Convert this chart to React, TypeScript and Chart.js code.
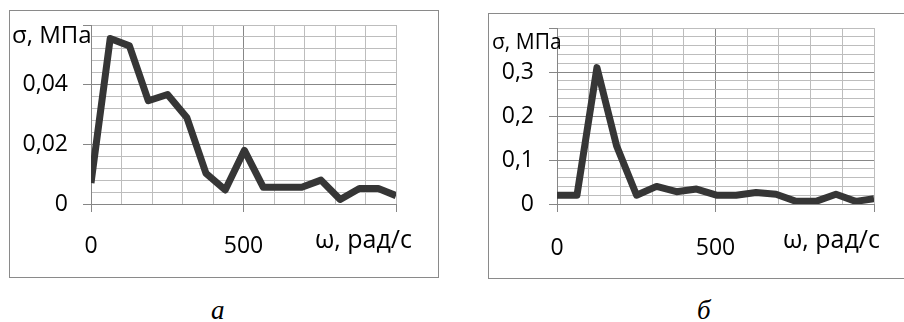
import React, { useEffect, useRef } from 'react';
import { Chart, registerables } from 'chart.js';

Chart.register(...registerables);

// ---- data ----
const omega = [0, 63, 126, 188, 251, 314, 377, 440, 503, 565, 628, 691, 754, 817, 880, 942, 1000];
const sigmaA = [0.007, 0.0555, 0.053, 0.0346, 0.0367, 0.029, 0.0103, 0.0047, 0.018, 0.0056, 0.0056, 0.0056, 0.008, 0.0015, 0.0052, 0.0052, 0.0028];
const sigmaB = [0.02, 0.02, 0.31, 0.132, 0.02, 0.04, 0.028, 0.034, 0.02, 0.02, 0.026, 0.022, 0.006, 0.006, 0.022, 0.006, 0.012];
const xTickLabels = ['0', '500'];
const yTickLabelsA = ['0', '0,02', '0,04'];
const yTickLabelsB = ['0', '0,1', '0,2', '0,3'];
const yTitle = 'σ, МПа';
const xTitle = 'ω, рад/с';
const captions = ['а', 'б'];

// ---- styles ----
const FONT = "'Open Sans', sans-serif";
const TICK_SIZE = 23;
const LINE = '#363636';
const MAJOR = '#878787';
const MINOR = '#bdbdbd';
const AXIS = '#868686';
const BOX = '#8a8a8a';

const titlesPlugin = {
  id: 'axisTitles',
  afterDraw(chart: any, _args: any, opts: any) {
    const { ctx, chartArea } = chart;
    ctx.save();
    ctx.fillStyle = '#000';
    ctx.textBaseline = 'alphabetic';
    ctx.font = `${opts.yFont}px ${FONT}`;
    ctx.textAlign = 'left';
    ctx.fillText(opts.yText, opts.yX, chartArea.top + opts.yDy);
    ctx.font = `${opts.xFont}px ${FONT}`;
    ctx.textAlign = 'right';
    ctx.fillText(opts.xText, chartArea.right + opts.xDx, chartArea.bottom + opts.xDy);
    ctx.restore();
  },
};

type Spec = {
  values: number[];
  yMax: number;
  yMajor: number;
  yMinor: number;
  yLabels: string[];
  leftSpace: number;
  rightPad: number;
  topPad: number;
  bottomSpace: number;
  xPad: number;
  yFont: number;
  yX: number;
  yDy: number;
  xFont: number;
  xDx: number;
  xDy: number;
};

const near = (v: number, step: number) => Math.abs(v / step - Math.round(v / step)) < 1e-6;

function buildConfig(s: Spec): any {
  const xMax = 1000;
  const xMajor = 500;
  return {
    type: 'line',
    data: {
      datasets: [
        {
          data: omega.map((x, i) => ({ x, y: s.values[i] })),
          borderColor: LINE,
          borderWidth: 7,
          pointRadius: 0,
          tension: 0,
          fill: false,
          borderJoinStyle: 'round',
          borderCapStyle: 'butt',
        },
      ],
    },
    options: {
      responsive: false,
      animation: false,
      devicePixelRatio: 1,
      layout: { padding: { left: 0, right: s.rightPad, top: s.topPad, bottom: 0 } },
      plugins: {
        legend: { display: false },
        tooltip: { enabled: false },
        axisTitles: {
          yText: yTitle, yFont: s.yFont, yX: s.yX, yDy: s.yDy,
          xText: xTitle, xFont: s.xFont, xDx: s.xDx, xDy: s.xDy,
        },
      },
      scales: {
        x: {
          type: 'linear',
          min: 0,
          max: xMax,
          afterFit: (sc: any) => { sc.height = s.bottomSpace; },
          ticks: {
            stepSize: 100,
            autoSkip: false,
            maxRotation: 0,
            padding: s.xPad,
            color: '#000',
            font: { family: FONT, size: TICK_SIZE },
            callback: (v: number) => {
              const i = Math.round(v / xMajor);
              return near(v, xMajor) && i < xTickLabels.length ? xTickLabels[i] : '';
            },
          },
          grid: {
            color: (c: any) => (c.tick && near(c.tick.value, xMajor) && c.tick.value > 0 && c.tick.value < xMax ? MAJOR : MINOR),
            tickColor: (c: any) => (c.tick && near(c.tick.value, xMajor) ? AXIS : 'rgba(0,0,0,0)'),
            tickLength: 8,
            lineWidth: 1,
          },
          border: { display: true, color: AXIS, width: 1 },
        },
        y: {
          type: 'linear',
          min: 0,
          max: s.yMax,
          afterFit: (sc: any) => { sc.width = s.leftSpace; },
          ticks: {
            stepSize: s.yMinor,
            autoSkip: false,
            padding: 15,
            color: '#000',
            font: { family: FONT, size: TICK_SIZE, lineHeight: 0 },
            callback: (v: number) => {
              const i = Math.round(v / s.yMajor);
              return near(v, s.yMajor) && i < s.yLabels.length ? s.yLabels[i] : '';
            },
          },
          grid: {
            color: (c: any) => (c.tick && near(c.tick.value, s.yMajor) && c.tick.value > 1e-9 && c.tick.value < s.yMax - 1e-9 ? MAJOR : MINOR),
            tickColor: (c: any) => (c.tick && near(c.tick.value, s.yMajor) ? AXIS : 'rgba(0,0,0,0)'),
            tickLength: 8,
            lineWidth: 1,
          },
          border: { display: true, color: AXIS, width: 1 },
        },
      },
    },
    plugins: [titlesPlugin],
  };
}

function ChartCanvas({ spec, left, top, width, height }: { spec: Spec; left: number; top: number; width: number; height: number }) {
  const ref = useRef<HTMLCanvasElement>(null);
  useEffect(() => {
    const chart = new Chart(ref.current as HTMLCanvasElement, buildConfig(spec));
    return () => chart.destroy();
  }, []);
  return (
    <canvas
      ref={ref}
      width={width}
      height={height}
      style={{ position: 'absolute', left, top, width, height }}
    />
  );
}

const specA: Spec = {
  values: sigmaA, yMax: 0.06, yMajor: 0.02, yMinor: 0.004, yLabels: yTickLabelsA,
  leftSpace: 82, rightPad: 43, topPad: 15, bottomSpace: 74, xPad: 21,
  yFont: 24, yX: 3, yDy: 18,
  xFont: 25, xDx: 16, xDy: 44,
};

const specB: Spec = {
  values: sigmaB, yMax: 0.4, yMajor: 0.1, yMinor: 0.02, yLabels: yTickLabelsB,
  leftSpace: 69, rightPad: 30, topPad: 15, bottomSpace: 75, xPad: 23,
  yFont: 21, yX: 4, yDy: 21,
  xFont: 25, xDx: 6, xDy: 44,
};

const captionStyle: React.CSSProperties = {
  position: 'absolute',
  fontFamily: "'Liberation Serif', 'Times New Roman', serif",
  fontStyle: 'italic',
  fontSize: 27,
  lineHeight: '27px',
  color: '#000',
};

export default function App() {
  return (
    <div style={{ position: 'absolute', left: 0, top: 0, width: 904, height: 322, background: '#fff', overflow: 'hidden' }}>
      <div style={{ position: 'absolute', left: 9, top: 10, width: 430, height: 268, boxSizing: 'border-box', border: `1px solid ${BOX}` }} />
      <div style={{ position: 'absolute', left: 488, top: 13, width: 430, height: 266, boxSizing: 'border-box', border: `1px solid ${BOX}` }} />
      <ChartCanvas spec={specA} left={9} top={10} width={430} height={268} />
      <ChartCanvas spec={specB} left={488} top={13} width={416} height={266} />
      <div style={{ ...captionStyle, left: 211, top: 297 }}>{captions[0]}</div>
      <div style={{ ...captionStyle, left: 697, top: 297 }}>{captions[1]}</div>
    </div>
  );
}
